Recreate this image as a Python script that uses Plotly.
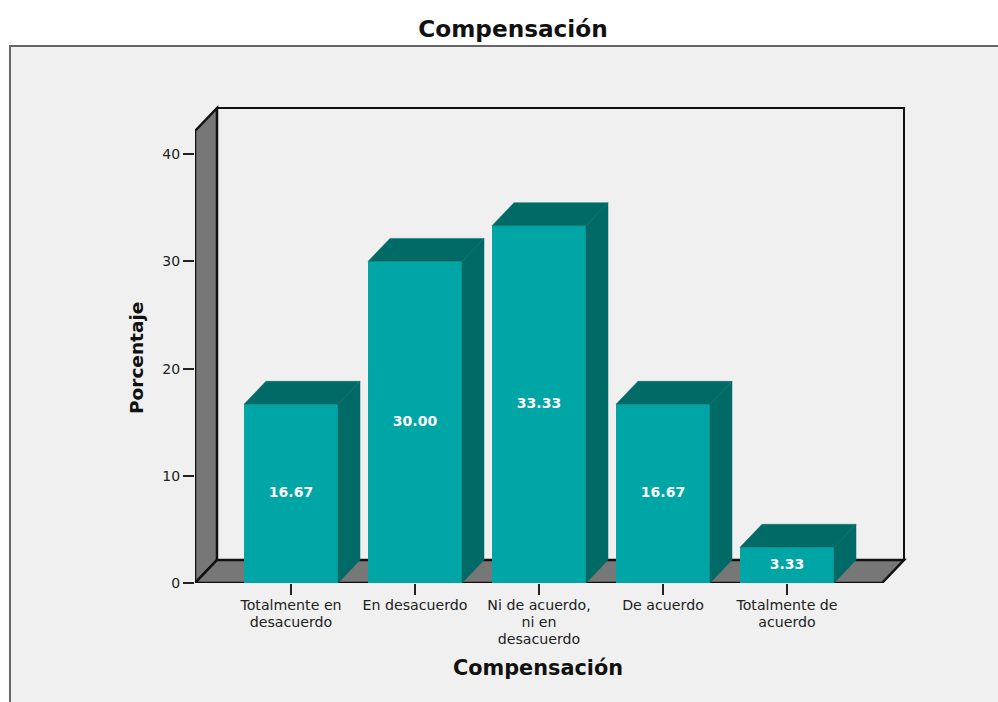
import plotly.graph_objects as go

# Data
categories = ["Totalmente en<br>desacuerdo", "En desacuerdo", "Ni de acuerdo,<br>ni en<br>desacuerdo",
              "De acuerdo", "Totalmente de<br>acuerdo"]
percentages = [16.67, 30.00, 33.33, 16.67, 3.33]
y_ticks = [0, 10, 20, 30, 40]

# Canvas and plot rectangle, in pixels
W, H = 998, 702
PLOT_L, PLOT_R, PLOT_T, PLOT_B = 195, 915, 100, 583
PX_PER_CAT = 124
PX_PER_PCT = 10.72
FIRST_CENTER = 291

x_range = [(PLOT_L - FIRST_CENTER) / PX_PER_CAT, (PLOT_R - FIRST_CENTER) / PX_PER_CAT]
y_range = [0, (PLOT_B - PLOT_T) / PX_PER_PCT]

# Oblique depth of the pseudo-3D box, in axis units
DX = 22 / PX_PER_CAT
DY = 23 / PX_PER_PCT
BAR_W = 94 / PX_PER_CAT

# Extent of the chart box, in axis units
BOX_L = x_range[0]
BOX_R = (882 - FIRST_CENTER) / PX_PER_CAT
BOX_TOP = (PLOT_B - 131) / PX_PER_PCT

FRONT = "#00A5A5"
SHADE = "#006A66"
WALL = "#777777"
EDGE = "#111111"
PANEL = "#F0F0F0"
FONT = "DejaVu Sans"


def poly(points):
    return "M " + " L ".join(f"{x},{y}" for x, y in points) + " Z"


def px_x(v):
    return (v - PLOT_L) / (PLOT_R - PLOT_L)


def px_y(v):
    return (PLOT_B - v) / (PLOT_B - PLOT_T)


def tight_label(label):
    # Leading follows the smaller tick font; the glyphs themselves are set a little larger
    return "<br>".join(f'<span style="font-size:14.2px">{line}</span>' for line in label.split("<br>"))


shapes = [
    # outer panel
    dict(type="rect", xref="paper", yref="paper", layer="below",
         x0=px_x(10), x1=px_x(1010), y0=px_y(46), y1=px_y(720),
         fillcolor=PANEL, line=dict(color="#666666", width=2)),
    # back wall
    dict(type="path", layer="below", fillcolor=PANEL, line=dict(color=EDGE, width=2),
         path=poly([(BOX_L + DX, DY), (BOX_L + DX, BOX_TOP + DY), (BOX_R + DX, BOX_TOP + DY), (BOX_R + DX, DY)])),
    # left wall
    dict(type="path", layer="below", fillcolor=WALL, line=dict(color=EDGE, width=2.5),
         path=poly([(BOX_L, 0), (BOX_L, BOX_TOP), (BOX_L + DX, BOX_TOP + DY), (BOX_L + DX, DY)])),
    # floor
    dict(type="path", layer="below", fillcolor=WALL, line=dict(color=EDGE, width=2.5),
         path=poly([(BOX_L, 0), (BOX_L + DX, DY), (BOX_R + DX, DY), (BOX_R, 0)])),
]

fig = go.Figure()

positions = list(range(len(categories)))

fig.add_trace(go.Bar(x=positions, y=percentages, width=BAR_W, marker=dict(color=FRONT, line=dict(width=0)),
                     showlegend=False, hoverinfo="skip"))

# Top and side faces of every bar
for pos, value in zip(positions, percentages):
    left, right = pos - BAR_W / 2, pos + BAR_W / 2
    top_x = [left, left + DX, right + DX, right, left]
    top_y = [value, value + DY, value + DY, value, value]
    side_x = [right, right + DX, right + DX, right, right]
    side_y = [0, DY, value + DY, value, 0]
    for fx, fy in ((top_x, top_y), (side_x, side_y)):
        fig.add_trace(go.Scatter(x=fx, y=fy, mode="lines", fill="toself", fillcolor=SHADE,
                                 line=dict(color=SHADE, width=0.5), showlegend=False, hoverinfo="skip"))

# Value labels in the middle of the front faces
fig.add_trace(go.Scatter(x=positions, y=[v / 2 for v in percentages], mode="text",
                         text=[f"{v:.2f}" for v in percentages], textposition="middle center",
                         textfont=dict(family=FONT, size=14, color="white", weight="bold"),
                         showlegend=False, hoverinfo="skip"))

annotations = [
    dict(text="Compensación", xref="paper", yref="paper", x=px_x(538), y=px_y(668), showarrow=False,
         xanchor="center", yanchor="middle",
         font=dict(family=FONT, size=20.8, color="#111111", weight="bold")),
    dict(text="Porcentaje", xref="paper", yref="paper", x=px_x(136), y=px_y(358), showarrow=False,
         textangle=-90, xanchor="center", yanchor="middle",
         font=dict(family=FONT, size=18.5, color="#111111", weight="bold")),
]

fig.update_layout(
    width=W, height=H, autosize=False,
    margin=dict(l=PLOT_L, r=W - PLOT_R, t=PLOT_T, b=H - PLOT_B, pad=0),
    paper_bgcolor="white", plot_bgcolor="rgba(0,0,0,0)",
    shapes=shapes,
    annotations=annotations,
    font=dict(family=FONT, color="#222222"),
    title=dict(text="Compensación", x=513 / W, xanchor="center", y=1 - 29 / H, yanchor="middle",
               font=dict(family=FONT, size=23.2, color="#111111", weight="bold")),
    xaxis=dict(range=x_range, tickmode="array", tickvals=positions,
               ticktext=[tight_label(c) for c in categories],
               ticks="outside", ticklen=11, tickwidth=1.5, tickcolor="#222222", showline=False, showgrid=False,
               zeroline=False, tickangle=0, tickfont=dict(family=FONT, size=12.8, color="#222222"),
               automargin=False, fixedrange=True),
    yaxis=dict(range=y_range, tickmode="array", tickvals=y_ticks, ticks="outside", ticklen=11, tickwidth=1.5,
               tickcolor="#222222", showline=False, showgrid=False, zeroline=False,
               tickfont=dict(family=FONT, size=14, color="#222222"), fixedrange=True),
)

fig.write_html("out.html", config=dict(displayModeBar=False))
